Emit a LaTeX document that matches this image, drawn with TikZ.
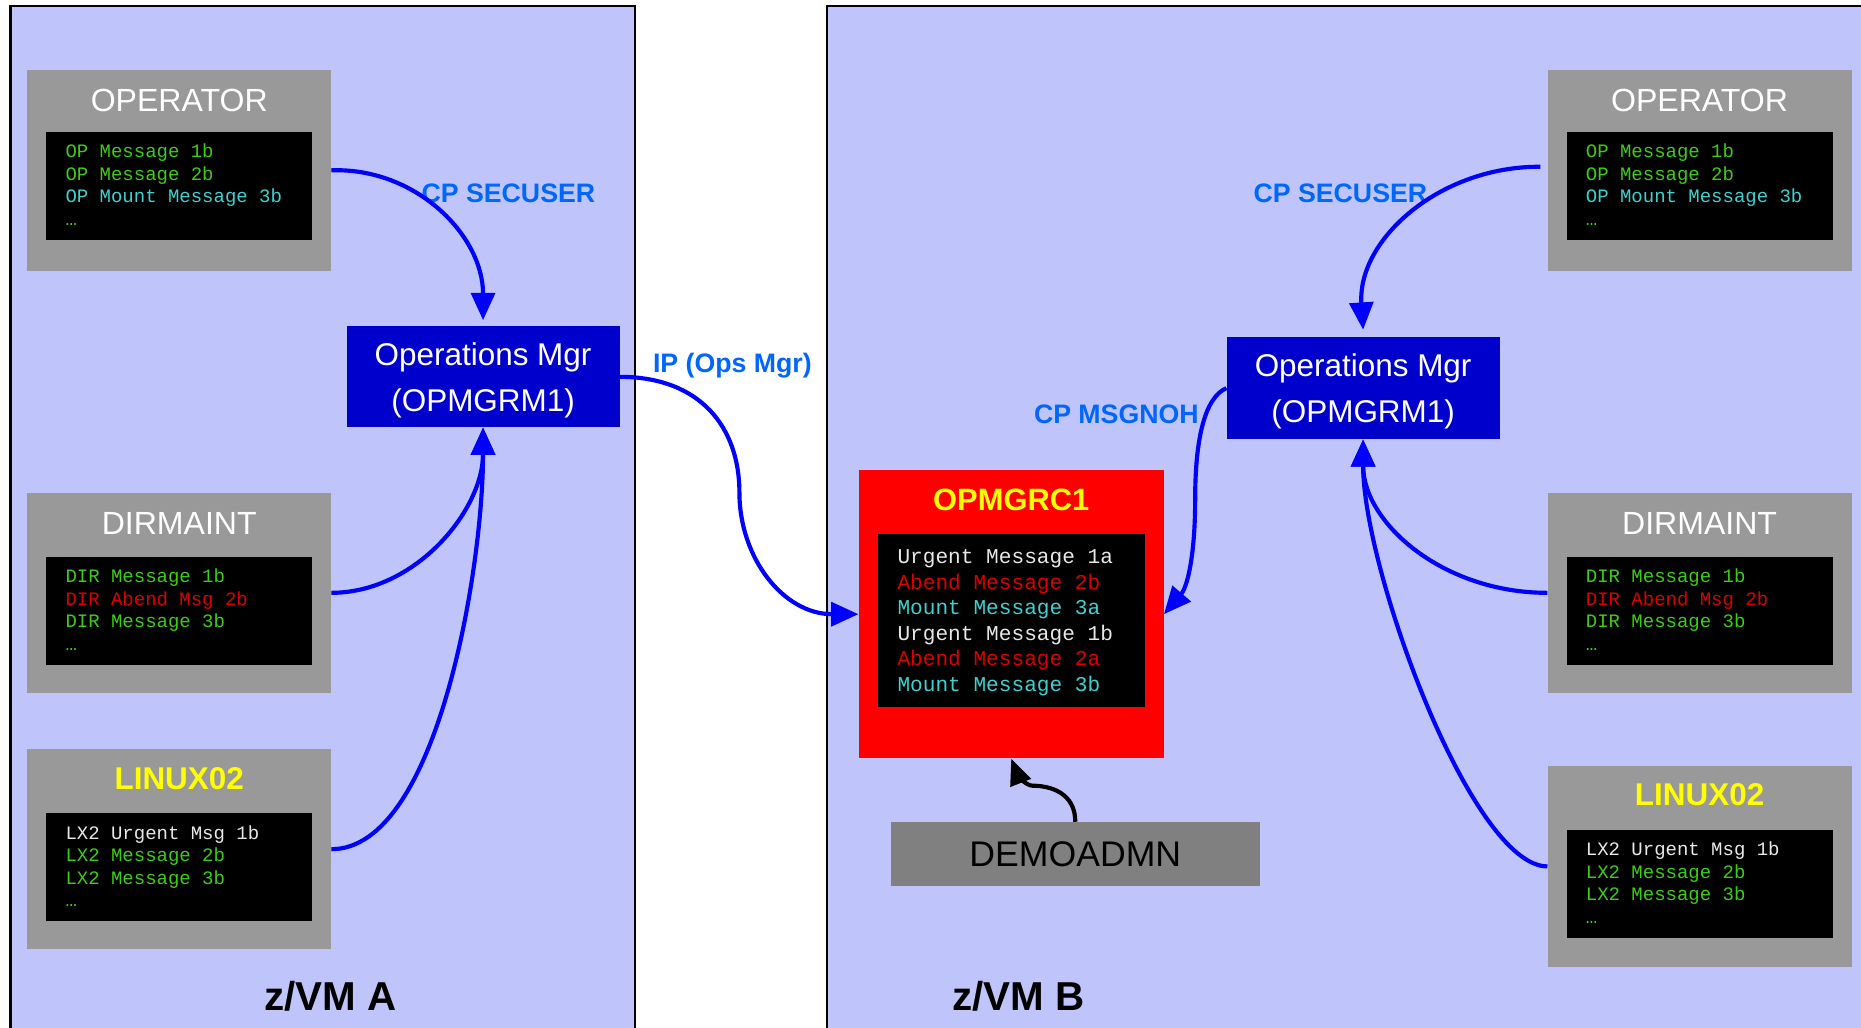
\documentclass[tikz,border=0pt]{standalone}
\usepackage{fontspec}
\setmainfont{Liberation Sans}
\newfontfamily\monofont{Liberation Mono}
\usetikzlibrary{arrows.meta,calc}
\definecolor{panel}{RGB}{191,197,250}
\definecolor{boxgray}{RGB}{153,153,153}
\definecolor{demogray}{RGB}{128,128,128}
\definecolor{mgrblue}{RGB}{0,0,204}
\definecolor{arrblue}{RGB}{0,0,255}
\definecolor{lblblue}{RGB}{0,102,255}
\definecolor{msggreen}{RGB}{60,205,20}
\definecolor{msgcyan}{RGB}{64,208,208}
\definecolor{msgred}{RGB}{220,0,0}
\definecolor{msgwhite}{RGB}{232,232,232}
\definecolor{redbox}{RGB}{255,0,0}
\definecolor{ytext}{RGB}{255,255,0}
\tikzset{
  panelbox/.style={draw=black, line width=2pt, fill=panel},
  graybox/.style={fill=boxgray, inner sep=0, minimum width=256pt, minimum height=169pt},
  termbox/.style={fill=black, inner sep=0, minimum width=224pt, minimum height=91pt},
  mgrbox/.style={fill=mgrblue, inner sep=0, minimum width=230pt, minimum height=85pt},
  titletext/.style={anchor=base, inner sep=0, text=white, font=\fontsize{27}{32}\selectfont},
  ytitle/.style={anchor=base, inner sep=0, text=ytext, font=\bfseries\fontsize{26.5}{32}\selectfont},
  mgrtext/.style={anchor=base, inner sep=0, text=white, font=\fontsize{26.5}{32}\selectfont},
  msg/.style={anchor=base west, inner sep=0, font=\monofont\fontsize{16}{19}\selectfont},
  bigmsg/.style={anchor=base west, inner sep=0, font=\monofont\fontsize{17.8}{21}\selectfont},
  lbl/.style={anchor=base west, inner sep=0, text=lblblue, font=\bfseries\fontsize{22.5}{27}\selectfont},
  vmlabel/.style={anchor=base, inner sep=0, text=black, font=\bfseries\fontsize{34}{40}\selectfont},
  flow/.style={draw=arrblue, line width=3.5pt, -{Triangle[length=23pt,width=20pt]}},
  demoflow/.style={draw=black, line width=3.5pt, -{Triangle[length=22pt,width=18pt]}},
}
\begin{document}
\begin{tikzpicture}[x=1pt,y=-1pt]
\clip (0,0) rectangle (1568,866);
\fill[white] (0,0) rectangle (1568,866);
% panels
\draw[panelbox] (9,5) rectangle (535,890);
\draw[panelbox] (697,5) rectangle (1600,890);
\node[vmlabel] (vmA) at (278.5,851) {z/VM A};
\node[vmlabel] (vmB) at (858,851) {z/VM B};

% ---------- z/VM A ----------
\node[graybox] (opA) at (151,143.5) {};
\node[termbox] (opAterm) at (151,156.5) {};
\node[titletext] (opAtitle) at (151,94) {OPERATOR};
\node[msg, text=msggreen] (opA1) at (55,133) {OP Message 1b};
\node[msg, text=msggreen] (opA2) at (55,152) {OP Message 2b};
\node[msg, text=msgcyan] (opA3) at (55,171) {OP Mount Message 3b};
\node[msg, text=msggreen] (opA4) at (55,190) {…};

\node[graybox] (dirA) at (151,499.5) {};
\node[termbox] (dirAterm) at (151,515) {};
\node[titletext] (dirAtitle) at (151,450) {DIRMAINT};
\node[msg, text=msggreen] (dirA1) at (55,491) {DIR Message 1b};
\node[msg, text=msgred] (dirA2) at (55,510) {DIR Abend Msg 2b};
\node[msg, text=msggreen] (dirA3) at (55,529) {DIR Message 3b};
\node[msg, text=msggreen] (dirA4) at (55,548) {…};

\node[graybox] (lxA) at (151,715.5) {};
\node[termbox] (lxAterm) at (151,730.5) {};
\node[ytitle] (lxAtitle) at (151,665.5) {LINUX02};
\node[msg, text=msgwhite] (lxA1) at (55,707) {LX2 Urgent Msg 1b};
\node[msg, text=msggreen] (lxA2) at (55,726) {LX2 Message 2b};
\node[msg, text=msggreen] (lxA3) at (55,745) {LX2 Message 3b};
\node[msg, text=msggreen] (lxA4) at (55,764) {…};

\node[mgrbox] (mgrA) at (407,317.5) {};
\node[mgrtext] (mgrA1) at (407,308) {Operations Mgr};
\node[mgrtext] (mgrA2) at (407,347) {(OPMGRM1)};

\node[lbl] (secA) at (355,171) {CP SECUSER};
\node[lbl] (iplbl) at (550,314) {IP (Ops Mgr)};

% ---------- z/VM B ----------
\node[graybox] (opB) at (1432,143.5) {};
\node[termbox] (opBterm) at (1432,156.5) {};
\node[titletext] (opBtitle) at (1432,94) {OPERATOR};
\node[msg, text=msggreen] (opB1) at (1336,133) {OP Message 1b};
\node[msg, text=msggreen] (opB2) at (1336,152) {OP Message 2b};
\node[msg, text=msgcyan] (opB3) at (1336,171) {OP Mount Message 3b};
\node[msg, text=msggreen] (opB4) at (1336,190) {…};

\node[graybox] (dirB) at (1432,499.5) {};
\node[termbox] (dirBterm) at (1432,515) {};
\node[titletext] (dirBtitle) at (1432,450) {DIRMAINT};
\node[msg, text=msggreen] (dirB1) at (1336,491) {DIR Message 1b};
\node[msg, text=msgred] (dirB2) at (1336,510) {DIR Abend Msg 2b};
\node[msg, text=msggreen] (dirB3) at (1336,529) {DIR Message 3b};
\node[msg, text=msggreen] (dirB4) at (1336,548) {…};

\node[graybox, minimum height=170pt] (lxB) at (1432,730) {};
\node[termbox] (lxBterm) at (1432,744.5) {};
\node[ytitle] (lxBtitle) at (1432,679) {LINUX02};
\node[msg, text=msgwhite] (lxB1) at (1336,721) {LX2 Urgent Msg 1b};
\node[msg, text=msggreen] (lxB2) at (1336,740) {LX2 Message 2b};
\node[msg, text=msggreen] (lxB3) at (1336,759) {LX2 Message 3b};
\node[msg, text=msggreen] (lxB4) at (1336,778) {…};

\node[mgrbox, minimum height=86pt] (mgrB) at (1148.5,327) {};
\node[mgrtext] (mgrB1) at (1148.5,317) {Operations Mgr};
\node[mgrtext] (mgrB2) at (1148.5,356) {(OPMGRM1)};

\node[lbl] (secB) at (1056,171) {CP SECUSER};
\node[lbl] (msgnoh) at (871,357) {CP MSGNOH};

% OPMGRC1
\node[fill=redbox, inner sep=0, minimum width=257pt, minimum height=243pt] (c1) at (852,517.5) {};
\node[fill=black, inner sep=0, minimum width=225pt, minimum height=146pt] (c1term) at (852,523) {};
\node[ytitle, font=\bfseries\fontsize{26}{32}\selectfont] (c1title) at (852,430) {OPMGRC1};
\node[bigmsg, text=msgwhite] (c1l1) at (756,475) {Urgent Message 1a};
\node[bigmsg, text=msgred] (c1l2) at (756,497) {Abend Message 2b};
\node[bigmsg, text=msgcyan] (c1l3) at (756,518) {Mount Message 3a};
\node[bigmsg, text=msgwhite] (c1l4) at (756,540) {Urgent Message 1b};
\node[bigmsg, text=msgred] (c1l5) at (756,561) {Abend Message 2a};
\node[bigmsg, text=msgcyan] (c1l6) at (756,583) {Mount Message 3b};

% DEMOADMN
\node[fill=demogray, inner sep=0, minimum width=311pt, minimum height=54pt] (demo) at (906,719.6) {};
\node[anchor=base, inner sep=0, text=black, font=\fontsize{30}{36}\selectfont] (demotext) at (906,730) {DEMOADMN};

% ---------- connectors ----------
\coordinate (mgrAtop) at ($(mgrA.north)+(0,-5)$);
\coordinate (mgrBtop) at ($(mgrB.north)+(0,-6)$);
\coordinate (opBout) at ($(opB.west)+(-6,-3)$);
\draw[flow] (opA.east) .. controls (350,141) and (407,198) .. (mgrAtop);
\draw[flow] (dirA.east) .. controls (350,499.5) and (407,430) .. (mgrA.south);
\draw[flow] (lxA.east) .. controls (368,715.5) and (407,480) .. (mgrA.south);
\draw[flow] (mgrA.east) .. controls (590,317.5) and (623,360) .. (623,415)
   .. controls (623,470) and (660,517.5) .. (c1.west);

\draw[flow] (opBout) .. controls (1213,140) and (1143.5,202) .. (mgrBtop);
\draw[flow] (dirB.west) .. controls (1215,499.5) and (1148.5,440) .. (mgrB.south);
\draw[flow] (lxB.west) .. controls (1240,730) and (1148.5,480) .. (mgrB.south);
\draw[flow] (mgrB.west) .. controls (1015,335) and (1007,370) .. (1007,420)
   .. controls (1007,470) and (1000,495) .. (c1.east);

\draw[demoflow] (demo.north) .. controls (906,668) and (885,662) .. (870,662)
   .. controls (864,662) and (857,652) .. (c1.south);
\end{tikzpicture}
\end{document}
